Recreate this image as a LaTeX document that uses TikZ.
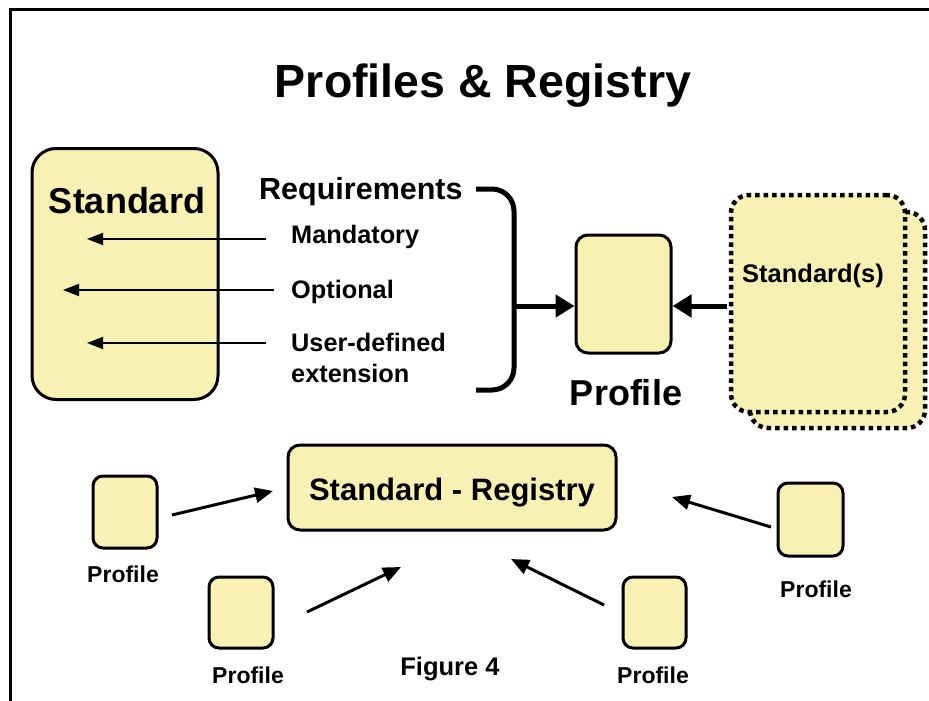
\documentclass[tikz,border=0pt]{standalone}
\usepackage{fontspec}
\setmainfont{Liberation Sans}
\usetikzlibrary{arrows.meta}
\definecolor{paleyellow}{HTML}{F8F1B4}
\tikzset{
  x=1pt, y=-1pt,
  box/.style={draw=black, line width=3pt, fill=paleyellow, rounded corners=#1, inner sep=0pt},
  box/.default=12pt,
  dotbox/.style={draw=black, line width=4.5pt, fill=paleyellow, rounded corners=18pt,
    dash pattern=on 4.5pt off 4pt, inner sep=0pt},
  lbl/.style={font=\bfseries\fontsize{#1}{#1}\selectfont, inner sep=0pt, anchor=base},
  thinarrow/.style={line width=1.8pt, -{Triangle[length=16pt,width=12pt]}},
  midarrow/.style={line width=3pt, -{Triangle[length=18pt,width=15pt]}},
  fatarrow/.style={line width=5pt, -{Triangle[length=19pt,width=22pt]}},
}
\begin{document}
\begin{tikzpicture}
\useasboundingbox (0,0) rectangle (929,701);
% frame
\draw[line width=3pt] (10,701) -- (10,10) -- (929,10);

% title
\node[lbl=46.5] (title) at (483,97) {Profiles \& Registry};

% standard box with requirement arrows
\node[box=24pt, minimum width=186pt, minimum height=251pt] (std) at (125,274) {};
\node[lbl=36] (stdtext) at (127,213) {Standard};
\node[lbl=30.5, anchor=base west] (req) at (259,199) {Requirements};
\node[lbl=25.3, anchor=base west] (mand) at (291,243) {Mandatory};
\node[lbl=25.3, anchor=base west] (opt) at (291,298) {Optional};
\node[lbl=25.3, anchor=base west] (user) at (291,351) {User-defined};
\node[lbl=25.3, anchor=base west] (ext) at (291,382) {extension};

\coordinate (mandS) at (266,239);
\coordinate (mandE) at (87,239);
\coordinate (optS) at (274,290);
\coordinate (optE) at (63,290);
\coordinate (userS) at (266,343);
\coordinate (userE) at (87,343);
\draw[thinarrow] (mandS) -- (mandE);
\draw[thinarrow] (optS) -- (optE);
\draw[thinarrow] (userS) -- (userE);

% bracket collecting the requirements
\coordinate (brTop) at (476,189);
\coordinate (brBot) at (476,390);
\coordinate (brMid) at (514,306);
\draw[line width=5pt, rounded corners=22pt] (brTop) -- (514,189) -- (514,390) -- (brBot);

% profile
\node[box=12pt, minimum width=95pt, minimum height=118pt] (prof) at (623.5,294) {};
\node[lbl=36] (proftext) at (626,405) {Profile};
\draw[fatarrow] (brMid) -- (prof.west |- brMid);

% standard(s), stacked
\node[dotbox, minimum width=175pt, minimum height=216pt] (stdsB) at (837.5,320) {};
\node[dotbox, minimum width=174pt, minimum height=217pt] (stdsA) at (818,303.5) {};
\node[lbl=25.5] (stdstext) at (813,282) {Standard(s)};
\coordinate (stdsOut) at (727,306);
\draw[fatarrow] (stdsOut) -- (prof.east |- stdsOut);

% registry
\node[box=12pt, minimum width=328pt, minimum height=85pt] (reg) at (452,487.5) {};
\node[lbl=31] (regtext) at (452,500) {Standard - Registry};

% registered profiles
\node[box=10pt, minimum width=64pt, minimum height=72pt] (p1) at (125,512) {};
\node[lbl=23] (p1t) at (123,582) {Profile};
\node[box=10pt, minimum width=64pt, minimum height=71pt] (p2) at (241,612.5) {};
\node[lbl=23] (p2t) at (248,683) {Profile};
\node[box=10pt, minimum width=63pt, minimum height=71pt] (p3) at (654.5,612.5) {};
\node[lbl=23] (p3t) at (653,683) {Profile};
\node[box=10pt, minimum width=65pt, minimum height=73pt] (p4) at (810.5,519.5) {};
\node[lbl=23] (p4t) at (816,597) {Profile};

\node[lbl=25.5] (fig) at (450,675) {Figure 4};

\coordinate (a1s) at (172,515);
\coordinate (a1e) at (273,491);
\coordinate (a2s) at (307,612);
\coordinate (a2e) at (401,567);
\coordinate (a3s) at (604,605);
\coordinate (a3e) at (511,559);
\coordinate (a4s) at (771,527);
\coordinate (a4e) at (672,497);
\draw[midarrow] (a1s) -- (a1e);
\draw[midarrow] (a2s) -- (a2e);
\draw[midarrow] (a3s) -- (a3e);
\draw[midarrow] (a4s) -- (a4e);
\end{tikzpicture}
\end{document}
